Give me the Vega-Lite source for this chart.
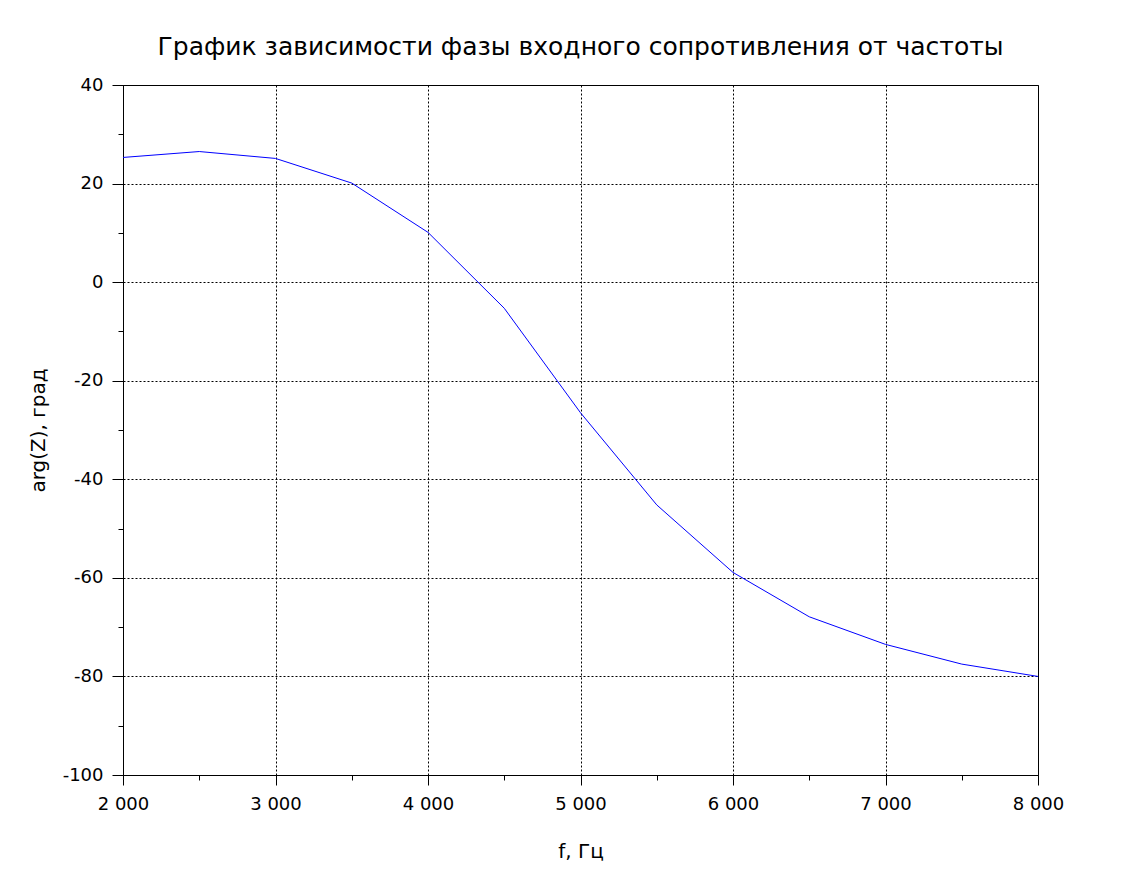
{
  "$schema": "https://vega.github.io/schema/vega-lite/v6.json",
  "width": 915,
  "height": 690,
  "autosize": {"type": "none"},
  "padding": {"left": 123, "top": 85, "right": 97, "bottom": 105},
  "background": "white",
  "title": {
    "text": "График зависимости фазы входного сопротивления от частоты",
    "frame": "group",
    "anchor": "middle",
    "baseline": "alphabetic",
    "offset": -4,
    "font": "DejaVu Sans",
    "fontSize": 25,
    "fontWeight": "normal",
    "color": "black"
  },
  "config": {
    "view": {"stroke": "black", "strokeWidth": 1},
    "axis": {
      "labelFont": "DejaVu Sans",
      "labelFontSize": 18,
      "labelColor": "black",
      "labelFlush": false,
      "titleFont": "DejaVu Sans",
      "titleFontSize": 20,
      "titleFontWeight": "normal",
      "titleColor": "black",
      "domainColor": "black",
      "domainWidth": 1,
      "tickColor": "black",
      "tickWidth": 1,
      "gridColor": "black",
      "gridDash": [2, 2],
      "gridWidth": 1,
      "gridOpacity": 1
    }
  },
  "data": {
    "values": [
      {"f": 2000, "arg": 25.3},
      {"f": 2500, "arg": 26.5},
      {"f": 3000, "arg": 25.1},
      {"f": 3500, "arg": 20.1},
      {"f": 4000, "arg": 10.1},
      {"f": 4500, "arg": -5.3},
      {"f": 5000, "arg": -26.5},
      {"f": 5500, "arg": -45.2},
      {"f": 6000, "arg": -58.9},
      {"f": 6500, "arg": -67.9},
      {"f": 7000, "arg": -73.5},
      {"f": 7500, "arg": -77.5},
      {"f": 8000, "arg": -80}
    ]
  },
  "layer": [
    {
      "mark": {"type": "line", "color": "#0000ff", "strokeWidth": 1},
      "encoding": {
        "x": {
          "field": "f",
          "type": "quantitative",
          "scale": {"domain": [2000, 8000], "nice": false, "zero": false},
          "axis": {
            "orient": "bottom",
            "values": [2000, 3000, 4000, 5000, 6000, 7000, 8000],
            "labelExpr": "replace(format(datum.value, ','), ',', ' ')",
            "tickSize": 10,
            "labelPadding": 10,
            "title": "f, Гц",
            "titleX": 457.5,
            "titleY": 82,
            "titleBaseline": "alphabetic",
            "grid": true
          }
        },
        "y": {
          "field": "arg",
          "type": "quantitative",
          "scale": {"domain": [-100, 40], "nice": false, "zero": false},
          "axis": {
            "orient": "left",
            "values": [-100, -80, -60, -40, -20, 0, 20, 40],
            "labelExpr": "'' + datum.value",
            "tickSize": 11,
            "labelPadding": 9,
            "title": "arg(Z), град",
            "titleX": -79,
            "titleY": 345,
            "titleBaseline": "alphabetic",
            "titleAngle": -90,
            "grid": true
          }
        }
      }
    },
    {
      "mark": {"type": "line", "strokeOpacity": 0},
      "encoding": {
        "x": {
          "field": "f",
          "type": "quantitative",
          "axis": {
            "orient": "bottom",
            "values": [2500, 3500, 4500, 5500, 6500, 7500],
            "labels": false,
            "domain": false,
            "grid": false,
            "tickSize": 5,
            "title": null
          }
        },
        "y": {
          "field": "arg",
          "type": "quantitative",
          "axis": {
            "orient": "left",
            "values": [-90, -70, -50, -30, -10, 10, 30],
            "labels": false,
            "domain": false,
            "grid": false,
            "tickSize": 5,
            "title": null
          }
        }
      }
    }
  ],
  "resolve": {"axis": {"x": "independent", "y": "independent"}}
}
